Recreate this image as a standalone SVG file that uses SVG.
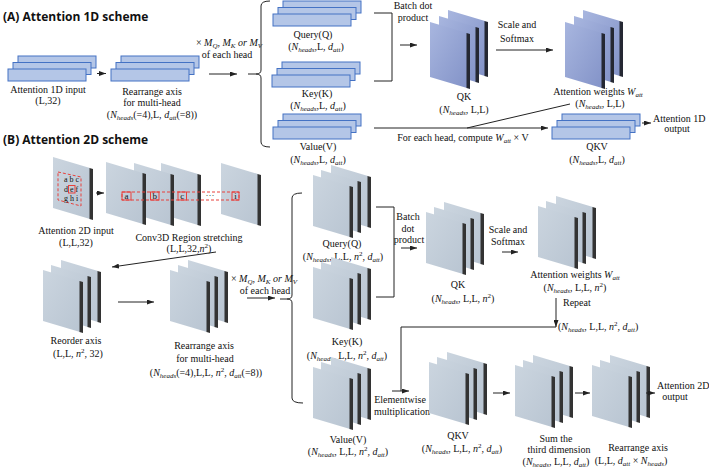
<svg xmlns="http://www.w3.org/2000/svg" width="709" height="468" viewBox="0 0 709 468">
<style>
.t{font-family:"Liberation Serif","Times New Roman",serif;font-size:10px;fill:#111;text-anchor:middle}
.st{text-anchor:start}
.i{font-style:italic}
.s{font-size:7px}
.h{font-family:"Open Sans","Liberation Sans",sans-serif;font-weight:700;font-size:12px;fill:#111}
.ln{stroke:#222;stroke-width:1;fill:none}
.a{marker-end:url(#ah)}
.rb{fill:#b4c6e7;stroke:#4472c4;stroke-width:1}
.rd{fill:none;stroke:#e8413c;stroke-width:1}
.dash{stroke-dasharray:3,2}
.sm{font-size:9px}
.xs{font-size:8px}
</style>
<defs>
<marker id="ah" markerWidth="7" markerHeight="5" refX="7" refY="2.5" orient="auto" markerUnits="userSpaceOnUse"><path d="M0,0 L7,2.5 L0,5 z" fill="#222"/></marker>
<linearGradient id="gb" x1="0" y1="0" x2="1" y2="1"><stop offset="0" stop-color="#a8b6df"/><stop offset="1" stop-color="#8393c8"/></linearGradient>
<linearGradient id="gg" x1="0" y1="0" x2="1" y2="1"><stop offset="0" stop-color="#cbd5df"/><stop offset="1" stop-color="#b9c5d2"/></linearGradient>
<g id="p2"><polygon points="0,0 37,11 37,62 0,51" fill="url(#gg)"/><polygon points="36.5,11 40,12 40,63 36.5,62" fill="#333"/></g>
<g id="s2"><use href="#p2" x="18" y="-10"/><use href="#p2" x="8" y="-5"/><use href="#p2"/></g>
<g id="p1"><polygon points="0,0 37,11 37,66 0,55" fill="url(#gb)"/><polygon points="36.5,11 40,12 40,67 36.5,66" fill="#252833"/></g>
<g id="s1"><use href="#p1" x="18" y="-12"/><use href="#p1" x="9" y="-6"/><use href="#p1"/></g>
<g id="r1"><rect class="rb" x="10" y="-13" width="78" height="12"/><rect class="rb" x="5" y="-6.5" width="78" height="12"/><rect class="rb" x="0" y="0" width="78" height="12"/></g>
</defs>

<text class="h" x="3" y="21">(A)  Attention 1D scheme</text>
<text class="h" x="3" y="144">(B)  Attention 2D scheme</text>

<!-- 1D nodes -->
<g id="in1d"><use href="#r1" x="8" y="69"/>
<text class="t" x="48" y="93">Attention 1D input</text><text class="t" x="48" y="104">(L,32)</text></g>
<g id="rearr1d"><use href="#r1" x="111" y="69"/>
<text class="t" x="152" y="95">Rearrange axis</text><text class="t" x="152" y="106">for multi-head</text>
<text class="t" x="152" y="118">(<tspan class="i">N</tspan><tspan class="i s" dy="2">heads</tspan><tspan dy="-2">(=4),L, </tspan><tspan class="i">d</tspan><tspan class="i s" dy="2">att</tspan><tspan dy="-2">(=8))</tspan></text></g>
<g id="mq1d"><text class="t" x="229" y="46">× <tspan class="i">M</tspan><tspan class="i s" dy="2">Q</tspan><tspan dy="-2">, </tspan><tspan class="i">M</tspan><tspan class="i s" dy="2">K</tspan><tspan class="i" dy="-2"> or M</tspan><tspan class="i s" dy="2">V</tspan></text>
<text class="t" x="227" y="58">of each head</text></g>
<g id="q1d"><use href="#r1" x="273" y="14"/>
<text class="t" x="313" y="38">Query(Q)</text>
<text class="t" x="316" y="50">(<tspan class="i">N</tspan><tspan class="i s" dy="2">heads</tspan><tspan dy="-2">,L, </tspan><tspan class="i">d</tspan><tspan class="i s" dy="2">att</tspan><tspan dy="-2">)</tspan></text></g>
<g id="k1d"><use href="#r1" x="272" y="75"/>
<text class="t" x="317" y="97">Key(K)</text>
<text class="t" x="318" y="109">(<tspan class="i">N</tspan><tspan class="i s" dy="2">heads</tspan><tspan dy="-2">,L, </tspan><tspan class="i">d</tspan><tspan class="i s" dy="2">att</tspan><tspan dy="-2">)</tspan></text></g>
<g id="v1d"><use href="#r1" x="273" y="127"/>
<text class="t" x="318" y="150">Value(V)</text>
<text class="t" x="318" y="163">(<tspan class="i">N</tspan><tspan class="i s" dy="2">heads</tspan><tspan dy="-2">,L, </tspan><tspan class="i">d</tspan><tspan class="i s" dy="2">att</tspan><tspan dy="-2">)</tspan></text></g>
<g id="bdp1d"><text class="t" x="413" y="9">Batch dot</text><text class="t" x="413" y="21">product</text></g>
<g id="qk1d"><use href="#s1" x="430" y="22"/>
<text class="t" x="464" y="100">QK</text>
<text class="t" x="464" y="113">(<tspan class="i">N</tspan><tspan class="i s" dy="2">heads</tspan><tspan dy="-2">, L,L)</tspan></text></g>
<g id="ss1d"><text class="t" x="517" y="28">Scale and</text><text class="t" x="517" y="42">Softmax</text></g>
<g id="w1d"><use href="#s1" x="565" y="22"/>
<text class="t" x="598" y="95">Attention weights <tspan class="i">W</tspan><tspan class="i s" dy="2">att</tspan></text>
<text class="t" x="600" y="107">(<tspan class="i">N</tspan><tspan class="i s" dy="2">heads</tspan><tspan dy="-2">, L,L)</tspan></text></g>
<g id="fe1d"><text class="t" x="463" y="141">For each head, compute <tspan class="i">W</tspan><tspan class="i s" dy="2">att</tspan><tspan dy="-2"> × V</tspan></text></g>
<g id="qkv1d"><use href="#r1" x="552" y="127"/>
<text class="t" x="597" y="150">QKV</text>
<text class="t" x="597" y="163">(<tspan class="i">N</tspan><tspan class="i s" dy="2">heads</tspan><tspan dy="-2">,L, </tspan><tspan class="i">d</tspan><tspan class="i s" dy="2">att</tspan><tspan dy="-2">)</tspan></text></g>
<g id="out1d"><text class="t st" x="653" y="122">Attention 1D</text><text class="t" x="677" y="132">output</text></g>

<!-- 2D nodes -->
<g id="in2d"><use href="#p2" x="53" y="157"/>
<polygon class="rd dash" points="58,172 81,177 81,206 58,200"/>
<text class="t st xs" x="64" y="182">a b c</text>
<text class="t st xs" x="64" y="192">d e f</text>
<text class="t st xs" x="64" y="201">g h i</text>
<rect class="rd" x="68.5" y="185.5" width="6.5" height="7.5"/>
<text class="t" x="76" y="234">Attention 2D input</text><text class="t" x="76" y="246">(L,L,32)</text></g>
<g id="conv2d"><use href="#p2" x="221" y="163"/><use href="#p2" x="161" y="163"/><use href="#p2" x="134" y="163"/><use href="#p2" x="106" y="162"/>
<rect class="rd dash" x="122" y="192" width="117" height="8"/>
<rect class="rd" x="122" y="192" width="9" height="8"/><rect class="rd" x="150.5" y="192" width="8.5" height="8"/><rect class="rd" x="178" y="192" width="8.5" height="8"/><rect class="rd" x="232" y="192" width="7" height="8"/>
<text class="t sm" x="126.5" y="199">a</text><text class="t sm" x="154.7" y="199">b</text><text class="t sm" x="182.3" y="199">c</text><text class="t sm" x="210" y="198">···</text><text class="t sm" x="235.5" y="199">i</text>
<text class="t" x="189" y="241">Conv3D Region stretching</text>
<text class="t" x="189" y="252">(L,L,32,<tspan class="i">n</tspan><tspan class="s" dy="-4">2</tspan><tspan dy="4">)</tspan></text></g>
<g id="reord2d"><use href="#s2" x="43" y="270"/>
<text class="t" x="76" y="344">Reorder axis</text>
<text class="t" x="78" y="357">(L,L, <tspan class="i">n</tspan><tspan class="s" dy="-4">2</tspan><tspan dy="4">, 32)</tspan></text></g>
<g id="rearr2d"><use href="#s2" x="170" y="270"/>
<text class="t" x="204" y="349">Rearrange axis</text><text class="t" x="205" y="362">for multi-head</text>
<text class="t" x="206" y="376">(<tspan class="i">N</tspan><tspan class="i s" dy="2">heads</tspan><tspan dy="-2">(=4),L,L, </tspan><tspan class="i">n</tspan><tspan class="s" dy="-4">2</tspan><tspan dy="4">, </tspan><tspan class="i">d</tspan><tspan class="i s" dy="2">att</tspan><tspan dy="-2">(=8))</tspan></text></g>
<g id="mq2d"><text class="t" x="264" y="282">× <tspan class="i">M</tspan><tspan class="i s" dy="2">Q</tspan><tspan dy="-2">, </tspan><tspan class="i">M</tspan><tspan class="i s" dy="2">K</tspan><tspan class="i" dy="-2"> or M</tspan><tspan class="i s" dy="2">V</tspan></text>
<text class="t" x="265" y="294">of each head</text></g>
<g id="q2d"><use href="#s2" x="313" y="175"/>
<text class="t" x="342" y="247">Query(Q)</text>
<text class="t" x="343" y="260">(<tspan class="i">N</tspan><tspan class="i s" dy="2">heads</tspan><tspan dy="-2">, L,L, </tspan><tspan class="i">n</tspan><tspan class="s" dy="-4">2</tspan><tspan dy="4">, </tspan><tspan class="i">d</tspan><tspan class="i s" dy="2">att</tspan><tspan dy="-2">)</tspan></text></g>
<g id="k2d"><use href="#s2" x="313" y="267"/>
<text class="t" x="347" y="345">Key(K)</text>
<text class="t" x="347" y="359">(<tspan class="i">N</tspan><tspan class="i s" dy="2">heads</tspan><tspan dy="-2">, L,L, </tspan><tspan class="i">n</tspan><tspan class="s" dy="-4">2</tspan><tspan dy="4">, </tspan><tspan class="i">d</tspan><tspan class="i s" dy="2">att</tspan><tspan dy="-2">)</tspan></text></g>
<g id="v2d"><use href="#s2" x="313" y="367"/>
<text class="t" x="348" y="443">Value(V)</text>
<text class="t" x="348" y="455">(<tspan class="i">N</tspan><tspan class="i s" dy="2">heads</tspan><tspan dy="-2">, L,L, </tspan><tspan class="i">n</tspan><tspan class="s" dy="-4">2</tspan><tspan dy="4">, </tspan><tspan class="i">d</tspan><tspan class="i s" dy="2">att</tspan><tspan dy="-2">)</tspan></text></g>
<g id="bdp2d"><text class="t" x="408" y="220">Batch</text><text class="t" x="408" y="232">dot</text><text class="t" x="409" y="243">product</text></g>
<g id="qk2d"><use href="#s2" x="426" y="212"/>
<text class="t" x="458" y="288">QK</text>
<text class="t" x="463" y="302">(<tspan class="i">N</tspan><tspan class="i s" dy="2">heads</tspan><tspan dy="-2">, L,L, </tspan><tspan class="i">n</tspan><tspan class="s" dy="-4">2</tspan><tspan dy="4">)</tspan></text></g>
<g id="ss2d"><text class="t" x="508" y="233">Scale and</text><text class="t" x="508" y="245">Softmax</text></g>
<g id="w2d"><use href="#s2" x="538" y="206"/>
<text class="t" x="575" y="278">Attention weights <tspan class="i">W</tspan><tspan class="i s" dy="2">att</tspan></text>
<text class="t" x="575" y="291">(<tspan class="i">N</tspan><tspan class="i s" dy="2">heads</tspan><tspan dy="-2">, L,L, </tspan><tspan class="i">n</tspan><tspan class="s" dy="-4">2</tspan><tspan dy="4">)</tspan></text></g>
<g id="rep2d"><text class="t st" x="563" y="306">Repeat</text>
<text class="t st" x="558" y="330">(<tspan class="i">N</tspan><tspan class="i s" dy="2">heads</tspan><tspan dy="-2">, L,L, </tspan><tspan class="i">n</tspan><tspan class="s" dy="-4">2</tspan><tspan dy="4">, </tspan><tspan class="i">d</tspan><tspan class="i s" dy="2">att</tspan><tspan dy="-2">)</tspan></text></g>
<g id="em2d"><text class="t" x="400" y="403">Elementwise</text><text class="t" x="402" y="415">multiplication</text></g>
<g id="qkv2d"><use href="#s2" x="429" y="362"/>
<text class="t" x="458" y="439">QKV</text>
<text class="t" x="462" y="452">(<tspan class="i">N</tspan><tspan class="i s" dy="2">heads</tspan><tspan dy="-2">, L,L, </tspan><tspan class="i">n</tspan><tspan class="s" dy="-4">2</tspan><tspan dy="4">, </tspan><tspan class="i">d</tspan><tspan class="i s" dy="2">att</tspan><tspan dy="-2">)</tspan></text></g>
<g id="sum2d"><use href="#s2" x="515" y="365"/>
<text class="t" x="556" y="442">Sum the</text><text class="t" x="559" y="453">third dimension</text>
<text class="t" x="556" y="465">(<tspan class="i">N</tspan><tspan class="i s" dy="2">heads</tspan><tspan dy="-2">, L,L, </tspan><tspan class="i">d</tspan><tspan class="i s" dy="2">att</tspan><tspan dy="-2">)</tspan></text></g>
<g id="rout2d"><use href="#s2" x="592" y="365"/>
<text class="t" x="638" y="451">Rearrange axis</text>
<text class="t" x="631" y="464">(L,L, <tspan class="i">d</tspan><tspan class="i s" dy="2">att</tspan><tspan dy="-2"> × </tspan><tspan class="i">N</tspan><tspan class="i s" dy="2">heads</tspan><tspan dy="-2">)</tspan></text></g>
<g id="out2d"><text class="t st" x="657" y="389">Attention 2D</text><text class="t" x="675" y="400">output</text></g>

<!-- connectors -->
<g id="connectors">
<path class="ln a" d="M97,73.5 H106"/>
<path class="ln a" d="M209,74 H237"/>
<path class="ln" d="M270,1 Q261,1 261,6 V70 Q261,74 256,74 H248 M256,74 Q261,74 261,78 V142 Q261,147 270,147"/>
<path class="ln" d="M374,13 H392 V81 H374"/>
<path class="ln a" d="M400,45 H417"/>
<path class="ln a" d="M496,50 H553"/>
<path class="ln a" d="M374,128 H548"/>
<path class="ln" d="M467,128 L570,104"/>
<path class="ln a" d="M642,123 H651"/>

<path class="ln a" d="M96,193 H104"/>
<path class="ln a" d="M216,252 L112,267"/>
<path class="ln a" d="M118,302 H154"/>
<path class="ln a" d="M247,298 H275"/>
<path class="ln" d="M302,193 Q292,193 292,198 V295 Q292,299 287,299 H280 M287,299 Q292,299 292,303 V398 Q292,403 303,403"/>
<path class="ln" d="M376,207 H394 V297 H376"/>
<path class="ln a" d="M401,248 H417"/>
<path class="ln a" d="M502,252 H518"/>
<path class="ln a" d="M556,298 V327"/>
<path class="ln" d="M556,327 H401 V391"/>
<path class="ln a" d="M392,391 H409"/>
<path class="ln a" d="M493,393 H510"/>
<path class="ln a" d="M575,393 H590"/>
<path class="ln a" d="M646,393 H655"/>
</g>
</svg>
